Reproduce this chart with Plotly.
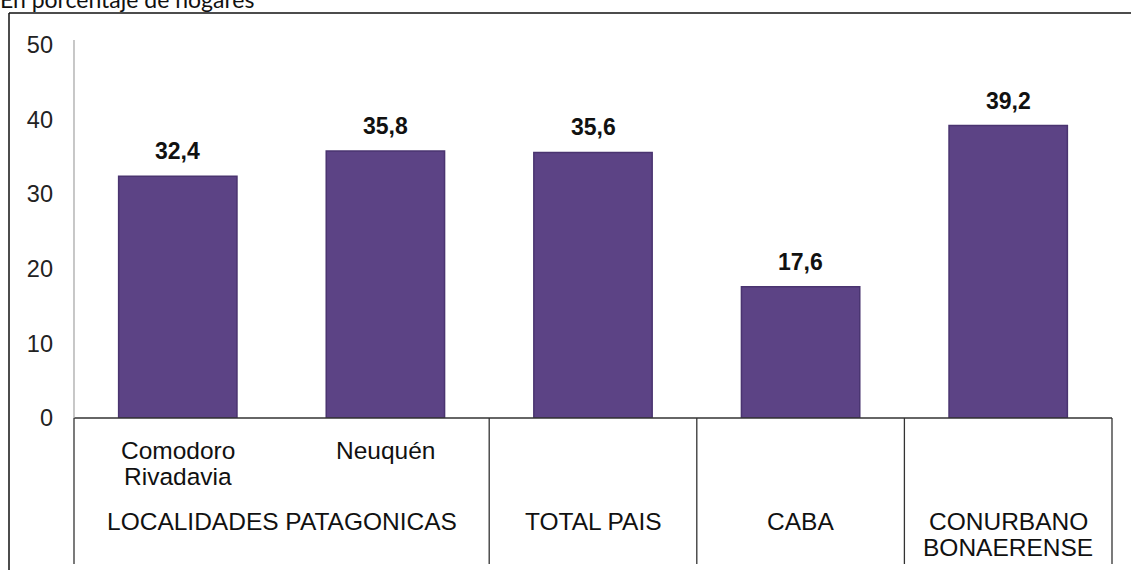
import plotly.graph_objects as go

# Data
places = ["Comodoro Rivadavia", "Neuquén", "TOTAL PAIS", "CABA", "CONURBANO BONAERENSE"]
values = [32.4, 35.8, 35.6, 17.6, 39.2]
group_labels = ["LOCALIDADES PATAGONICAS", "TOTAL PAIS", "CABA", "CONURBANO<br>BONAERENSE"]
group_centers = [0.5, 2, 3, 4]
group_edges = [-0.5, 1.5, 2.5, 3.5, 4.5]
y_ticks = [0, 10, 20, 30, 40, 50]
title_text = "En porcentaje de hogares"

W, H = 1131, 570
ML, MR, MT, MB = 74, 19, 45, 152
plot_w = W - ML - MR
plot_h = H - MT - MB

def py_to_paper(py):
    return (H - MB - py) / plot_h

def pxx_to_paper(px):
    return (px - ML) / plot_w

xs = list(range(len(places)))
FONT = "Liberation Sans, Arial, sans-serif"
LBL = dict(family=FONT, size=24.5, color="#111")

fig = go.Figure()
fig.add_trace(go.Bar(
    x=xs, y=values, width=0.57,
    marker=dict(color="#5C4385", line=dict(color="#4A3470", width=1.5)),
    hoverinfo="y", showlegend=False,
))

annotations = []
for x, v in zip(xs, values):
    annotations.append(dict(
        x=x, y=v, xref="x", yref="y", text=f"{v:.1f}".replace(".", ","),
        showarrow=False, yanchor="middle", yshift=25,
        font=dict(family=FONT, size=23, color="#111111", weight="bold"),
    ))

# sub labels for the Patagonian localities
annotations.append(dict(x=0, y=py_to_paper(450), xref="x", yref="paper", text="Comodoro",
                        showarrow=False, yanchor="middle", font=LBL))
annotations.append(dict(x=0, y=py_to_paper(477), xref="x", yref="paper", text="Rivadavia",
                        showarrow=False, yanchor="middle", font=LBL))
annotations.append(dict(x=1, y=py_to_paper(450), xref="x", yref="paper", text=places[1],
                        showarrow=False, yanchor="middle", font=LBL))

for gx, gl in zip(group_centers, group_labels):
    parts = gl.split("<br>")
    if len(parts) == 2:
        annotations.append(dict(x=gx, y=py_to_paper(521), xref="x", yref="paper", text=parts[0],
                                showarrow=False, yanchor="middle", font=LBL))
        annotations.append(dict(x=gx, y=py_to_paper(547), xref="x", yref="paper", text=parts[1],
                                showarrow=False, yanchor="middle", font=LBL))
    else:
        annotations.append(dict(x=gx, y=py_to_paper(521), xref="x", yref="paper", text=gl,
                                showarrow=False, yanchor="middle", font=LBL))

# title, cropped at the top as in the source image
annotations.append(dict(x=pxx_to_paper(-2), y=py_to_paper(-1), xref="paper", yref="paper",
                        text=title_text, showarrow=False, xanchor="left", yanchor="middle",
                        font=dict(family="Lato, sans-serif", size=23, color="#111")))

def edge_to_paper(e):
    return (e + 0.5) / len(places)

shapes = []
for e in group_edges:
    shapes.append(dict(type="line", xref="paper", yref="paper",
                       x0=edge_to_paper(e), x1=edge_to_paper(e),
                       y0=0, y1=py_to_paper(564), line=dict(color="#333333", width=1.3)))
shapes.append(dict(type="line", xref="paper", yref="paper", x0=0, x1=1, y0=0, y1=0,
                   line=dict(color="#333333", width=1.3)))
shapes.append(dict(type="line", xref="paper", yref="paper", x0=0, x1=0, y0=0, y1=py_to_paper(40),
                   line=dict(color="#AAAAAA", width=1.3)))
# outer border (top + left)
shapes.append(dict(type="line", xref="paper", yref="paper",
                   x0=pxx_to_paper(9), x1=pxx_to_paper(W + 2),
                   y0=py_to_paper(13), y1=py_to_paper(13), line=dict(color="#111111", width=1.5)))
shapes.append(dict(type="line", xref="paper", yref="paper",
                   x0=pxx_to_paper(9), x1=pxx_to_paper(9),
                   y0=py_to_paper(13), y1=py_to_paper(H + 5), line=dict(color="#111111", width=1.5)))

fig.update_layout(
    width=W, height=H,
    margin=dict(l=ML, r=MR, t=MT, b=MB, pad=0),
    paper_bgcolor="white", plot_bgcolor="white",
    xaxis=dict(range=[-0.5, 4.5], showticklabels=False, showgrid=False, zeroline=False,
               showline=False, ticks="", fixedrange=True),
    yaxis=dict(range=[0, 50], tickvals=y_ticks, showgrid=False, zeroline=False, showline=False,
               ticks="", ticklabelstandoff=20, fixedrange=True,
               tickfont=dict(family=FONT, size=23.5, color="#222")),
    annotations=annotations, shapes=shapes,
    showlegend=False,
)

fig.write_html("out.html", config={"displayModeBar": False},
               post_script="document.body.style.margin='0';document.body.style.overflow='hidden';")
